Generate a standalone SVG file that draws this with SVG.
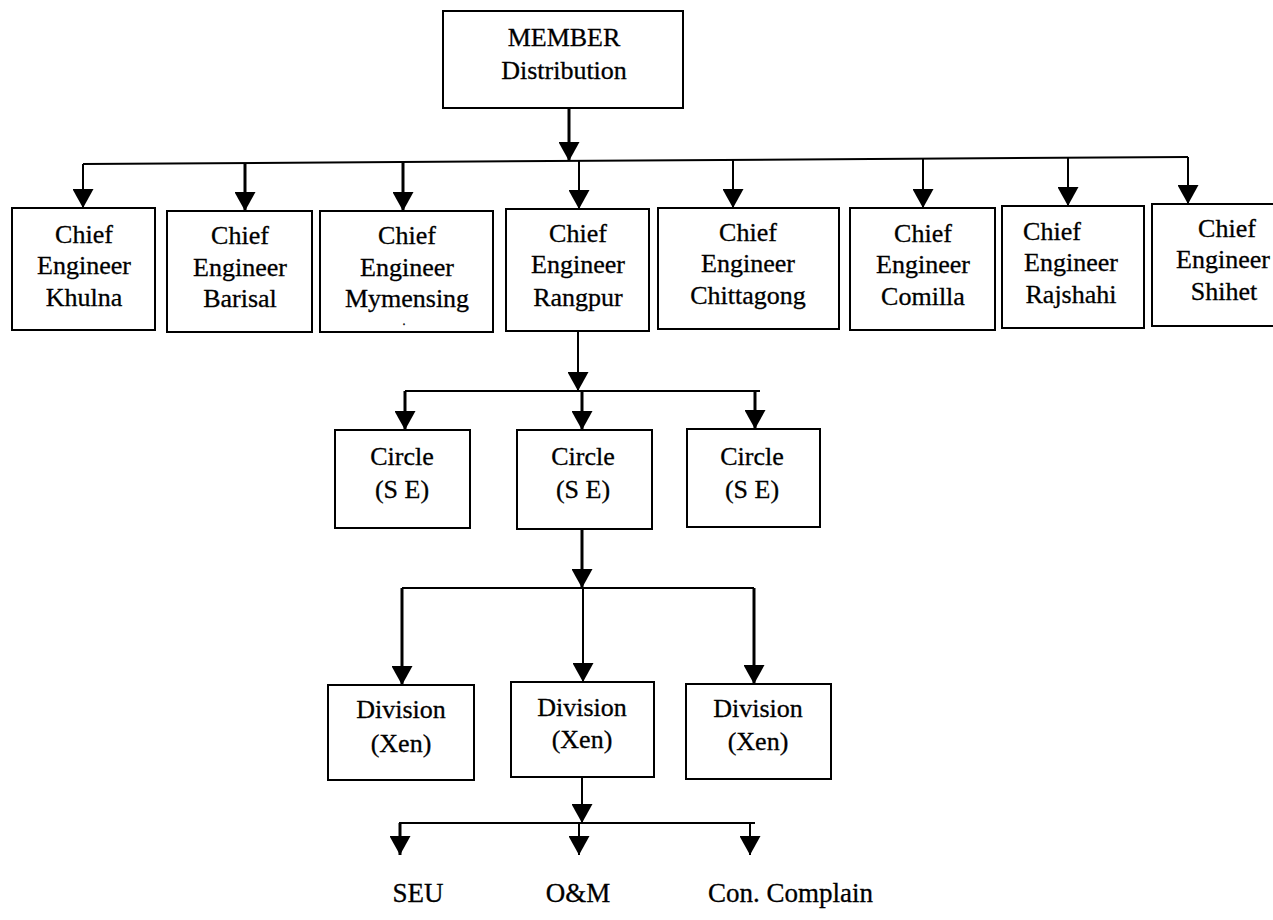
<svg xmlns="http://www.w3.org/2000/svg" width="1273" height="920" viewBox="0 0 1273 920">
  <style>
    .box { fill: #ffffff; stroke: #000000; stroke-width: 2; }
    .lbl { font-family: "Liberation Serif", "Times New Roman", serif; font-size: 26px; fill: #000000; stroke: #000000; stroke-width: 0.3; text-anchor: middle; }
    .end { font-family: "Liberation Serif", "Times New Roman", serif; font-size: 27px; fill: #000000; stroke: #000000; stroke-width: 0.3; text-anchor: middle; }
    .wire { fill: none; stroke: #000000; stroke-width: 2; }
    .heavy { stroke-width: 3; }
  </style>
  <defs>
    <marker id="tri" viewBox="0 0 19 21" refX="19" refY="10.5" markerWidth="19" markerHeight="21" markerUnits="userSpaceOnUse" orient="auto">
      <path d="M0,0 L19,10.5 L0,21 Z" fill="#000000"/>
    </marker>
  </defs>

  <rect width="1273" height="920" fill="#ffffff"/>

  <!-- connectors -->
  <g id="connectors">
    <!-- top level -->
    <path class="wire heavy" d="M569,108 V161" marker-end="url(#tri)"/>
    <path class="wire" d="M83,164 L1188,157"/>
    <path class="wire" d="M83,164 V208" marker-end="url(#tri)"/>
    <path class="wire heavy" d="M245,163 V211" marker-end="url(#tri)"/>
    <path class="wire heavy" d="M403,162 V211" marker-end="url(#tri)"/>
    <path class="wire" d="M579,161 V209" marker-end="url(#tri)"/>
    <path class="wire" d="M733,160 V208" marker-end="url(#tri)"/>
    <path class="wire" d="M923,159 V208" marker-end="url(#tri)"/>
    <path class="wire" d="M1068,158 V206" marker-end="url(#tri)"/>
    <path class="wire" d="M1188,157 V204" marker-end="url(#tri)"/>

    <!-- circle level -->
    <path class="wire" d="M578,331 V391" marker-end="url(#tri)"/>
    <path class="wire" d="M405,391 H760"/>
    <path class="wire heavy" d="M405,391 V430" marker-end="url(#tri)"/>
    <path class="wire heavy" d="M582,391 V430" marker-end="url(#tri)"/>
    <path class="wire heavy" d="M755,391 V429" marker-end="url(#tri)"/>

    <!-- division level -->
    <path class="wire heavy" d="M582,529 V588" marker-end="url(#tri)"/>
    <path class="wire" d="M402,588 H754"/>
    <path class="wire heavy" d="M402,588 V685" marker-end="url(#tri)"/>
    <path class="wire" d="M583,588 V682" marker-end="url(#tri)"/>
    <path class="wire heavy" d="M754,588 V684" marker-end="url(#tri)"/>

    <!-- unit level -->
    <path class="wire" d="M582,777 V823" marker-end="url(#tri)"/>
    <path class="wire" d="M399,823 H755"/>
    <path class="wire heavy" d="M400,823 V855" marker-end="url(#tri)"/>
    <path class="wire" d="M579,823 V855" marker-end="url(#tri)"/>
    <path class="wire" d="M750,823 V855" marker-end="url(#tri)"/>
  </g>

  <!-- head office -->
  <g id="member">
    <rect class="box" x="443" y="11" width="240" height="97"/>
    <text class="lbl" x="564" y="46">MEMBER</text>
    <text class="lbl" x="564" y="79">Distribution</text>
  </g>

  <!-- chief engineer zones -->
  <g id="ce-khulna">
    <rect class="box" x="12" y="208" width="143" height="122"/>
    <text class="lbl" x="84" y="243">Chief</text>
    <text class="lbl" x="84" y="274">Engineer</text>
    <text class="lbl" x="84" y="306">Khulna</text>
  </g>
  <g id="ce-barisal">
    <rect class="box" x="167" y="211" width="145" height="121"/>
    <text class="lbl" x="240" y="244">Chief</text>
    <text class="lbl" x="240" y="276">Engineer</text>
    <text class="lbl" x="240" y="307">Barisal</text>
  </g>
  <g id="ce-mymensing">
    <rect class="box" x="320" y="211" width="173" height="121"/>
    <text class="lbl" x="407" y="244">Chief</text>
    <text class="lbl" x="407" y="276">Engineer</text>
    <text class="lbl" x="407" y="307">Mymensing</text>
    <text class="lbl" x="404" y="325" style="font-size:12px">.</text>
  </g>
  <g id="ce-rangpur">
    <rect class="box" x="506" y="209" width="143" height="122"/>
    <text class="lbl" x="578" y="242">Chief</text>
    <text class="lbl" x="578" y="273">Engineer</text>
    <text class="lbl" x="578" y="306">Rangpur</text>
  </g>
  <g id="ce-chittagong">
    <rect class="box" x="658" y="208" width="181" height="121"/>
    <text class="lbl" x="748" y="241">Chief</text>
    <text class="lbl" x="748" y="272">Engineer</text>
    <text class="lbl" x="748" y="304">Chittagong</text>
  </g>
  <g id="ce-comilla">
    <rect class="box" x="850" y="208" width="145" height="122"/>
    <text class="lbl" x="923" y="242">Chief</text>
    <text class="lbl" x="923" y="273">Engineer</text>
    <text class="lbl" x="923" y="305">Comilla</text>
  </g>
  <g id="ce-rajshahi">
    <rect class="box" x="1002" y="206" width="142" height="122"/>
    <text class="lbl" x="1052" y="240">Chief</text>
    <text class="lbl" x="1071" y="271">Engineer</text>
    <text class="lbl" x="1071" y="303">Rajshahi</text>
  </g>
  <g id="ce-shihet">
    <rect class="box" x="1152" y="204" width="140" height="122"/>
    <text class="lbl" x="1227" y="237">Chief</text>
    <text class="lbl" x="1223" y="268">Engineer</text>
    <text class="lbl" x="1224" y="300">Shihet</text>
  </g>

  <!-- circles -->
  <g id="circle-1">
    <rect class="box" x="335" y="430" width="135" height="98"/>
    <text class="lbl" x="402" y="465">Circle</text>
    <text class="lbl" x="402" y="498">(S E)</text>
  </g>
  <g id="circle-2">
    <rect class="box" x="517" y="430" width="135" height="99"/>
    <text class="lbl" x="583" y="465">Circle</text>
    <text class="lbl" x="583" y="498">(S E)</text>
  </g>
  <g id="circle-3">
    <rect class="box" x="687" y="429" width="133" height="98"/>
    <text class="lbl" x="752" y="465">Circle</text>
    <text class="lbl" x="752" y="498">(S E)</text>
  </g>

  <!-- divisions -->
  <g id="division-1">
    <rect class="box" x="328" y="685" width="146" height="95"/>
    <text class="lbl" x="401" y="718">Division</text>
    <text class="lbl" x="401" y="752">(Xen)</text>
  </g>
  <g id="division-2">
    <rect class="box" x="511" y="682" width="143" height="95"/>
    <text class="lbl" x="582" y="716">Division</text>
    <text class="lbl" x="582" y="748">(Xen)</text>
  </g>
  <g id="division-3">
    <rect class="box" x="686" y="684" width="145" height="95"/>
    <text class="lbl" x="758" y="717">Division</text>
    <text class="lbl" x="758" y="750">(Xen)</text>
  </g>

  <!-- units -->
  <g id="unit-seu">
    <text class="end" x="418" y="902">SEU</text>
  </g>
  <g id="unit-om">
    <text class="end" x="578" y="902">O&amp;M</text>
  </g>
  <g id="unit-complain">
    <text class="end" x="708" y="902" style="text-anchor:start">Con. Complain</text>
  </g>
</svg>
